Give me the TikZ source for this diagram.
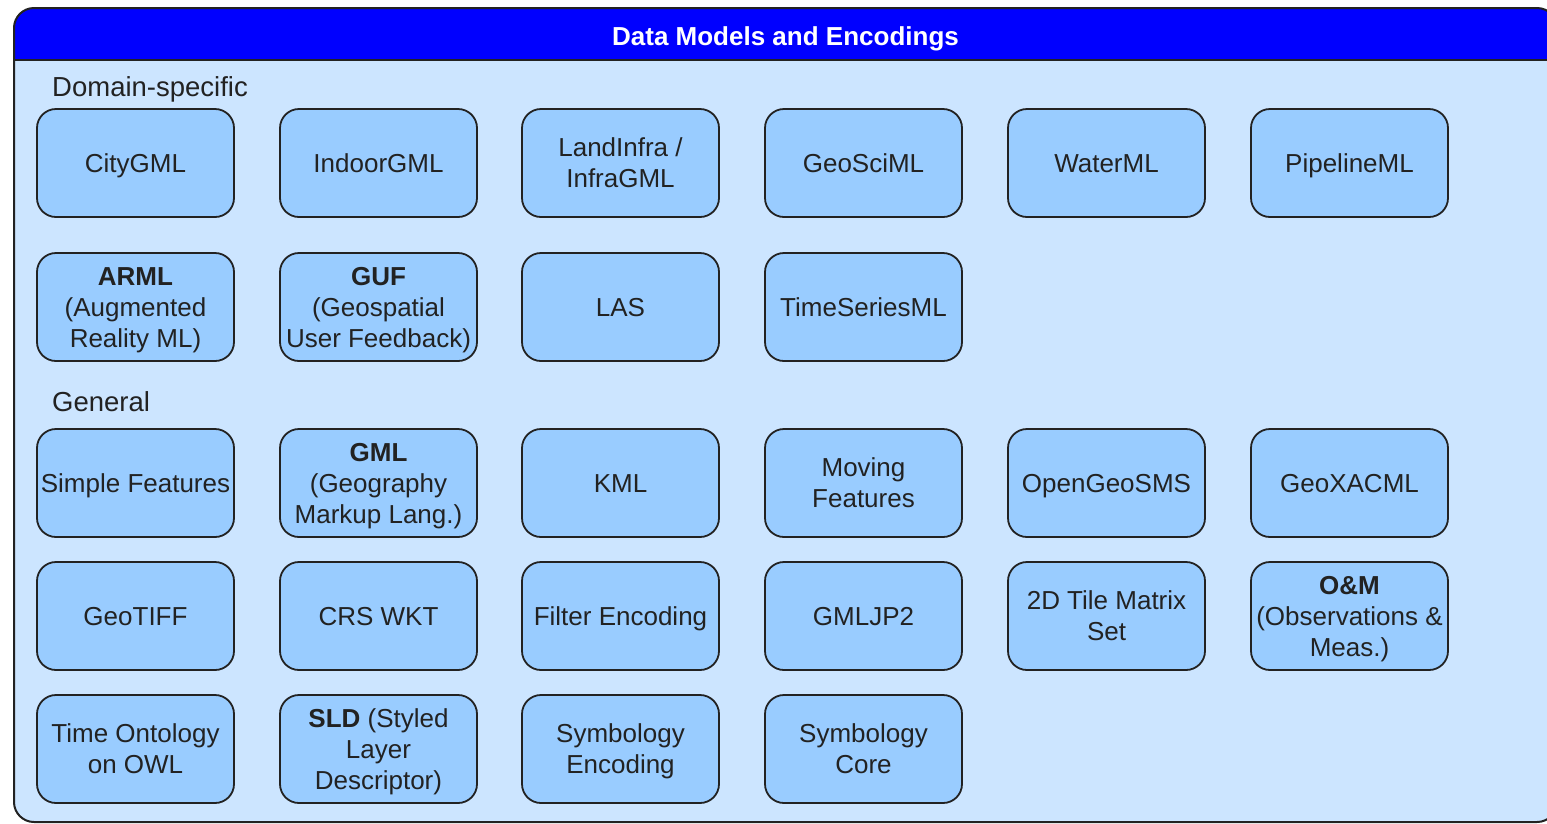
\documentclass[tikz,border=0pt]{standalone}
\usepackage{fontspec}
\setmainfont{Liberation Sans}
\definecolor{headblue}{HTML}{0000FF}
\definecolor{panelblue}{HTML}{CCE5FF}
\definecolor{boxblue}{HTML}{99CCFF}
\definecolor{ink}{HTML}{222222}
% strut symmetric about the cap centre, one per line of box text
\newcommand\lstrut{\rule[-6.2pt]{0pt}{31pt}}
\newcommand\lbr{\\\lstrut}
\tikzset{
  item/.style={draw=ink, line width=1.8pt, fill=boxblue, rounded corners=19pt,
    minimum width=197pt, minimum height=108pt, inner sep=0pt, align=center,
    text=ink, font=\fontsize{26}{31}\selectfont},
  grouplabel/.style={anchor=base west, inner sep=0pt, text=ink,
    font=\fontsize{27.5}{33}\selectfont},
  paneltitle/.style={anchor=base, inner sep=0pt, text=white,
    font=\bfseries\fontsize{26}{31}\selectfont},
}
\begin{document}
\begin{tikzpicture}[x=1pt,y=-1pt]
\useasboundingbox (0,0) rectangle (1547,823);
\fill[white] (0,0) rectangle (1547,823);
% container with its blue header band
\begin{scope}
  \clip[rounded corners=20] (14,8) rectangle (1557,822);
  \fill[panelblue] (14,8) rectangle (1557,822);
  \fill[headblue] (14,8) rectangle (1557,60);
\end{scope}
\draw[ink, line width=2pt] (14,60) -- (1557,60);
\draw[ink, line width=2pt, rounded corners=20] (14,8) rectangle (1557,822);
\node[paneltitle] (title) at (785.5,45) {Data Models and Encodings};

% Domain-specific
\node[grouplabel] (domain) at (52,96) {Domain-specific};
\node[item] (citygml)  at (135.5,163)  {\lstrut CityGML};
\node[item] (indoor)   at (378.5,163)  {\lstrut IndoorGML};
\node[item] (landinfra) at (620.5,163) {\lstrut LandInfra /\lbr InfraGML};
\node[item] (geosciml) at (863.5,163)  {\lstrut GeoSciML};
\node[item] (waterml)  at (1106.5,163) {\lstrut WaterML};
\node[item] (pipeline) at (1349.5,163) {\lstrut PipelineML};

\node[item] (arml) at (135.5,307) {\lstrut\textbf{ARML}\lbr(Augmented\lbr Reality ML)};
\node[item] (guf)  at (378.5,307) {\lstrut\textbf{GUF}\lbr(Geospatial\lbr User Feedback)};
\node[item] (las)  at (620.5,307) {\lstrut LAS};
\node[item] (tsml) at (863.5,307) {\lstrut TimeSeriesML};

% General
\node[grouplabel] (general) at (52,411) {General};
\node[item] (sf)     at (135.5,483)  {\lstrut Simple Features};
\node[item] (gml)    at (378.5,483)  {\lstrut\textbf{GML}\lbr(Geography\lbr Markup Lang.)};
\node[item] (kml)    at (620.5,483)  {\lstrut KML};
\node[item] (moving) at (863.5,483)  {\lstrut Moving\lbr Features};
\node[item] (ogsms)  at (1106.5,483) {\lstrut OpenGeoSMS};
\node[item] (xacml)  at (1349.5,483) {\lstrut GeoXACML};

\node[item] (tiff)   at (135.5,616)  {\lstrut GeoTIFF};
\node[item] (crs)    at (378.5,616)  {\lstrut CRS WKT};
\node[item] (filter) at (620.5,616)  {\lstrut Filter Encoding};
\node[item] (jp2)    at (863.5,616)  {\lstrut GMLJP2};
\node[item] (tms)    at (1106.5,616) {\lstrut 2D Tile Matrix\lbr Set};
\node[item] (om)     at (1349.5,616) {\lstrut\textbf{O\&M}\lbr(Observations \&\lbr Meas.)};

\node[item] (time)   at (135.5,749)  {\lstrut Time Ontology\lbr on OWL};
\node[item] (sld)    at (378.5,749)  {\lstrut\textbf{SLD} (Styled\lbr Layer\lbr Descriptor)};
\node[item] (symenc) at (620.5,749)  {\lstrut Symbology\lbr Encoding};
\node[item] (symcore) at (863.5,749) {\lstrut Symbology\lbr Core};
\end{tikzpicture}
\end{document}
